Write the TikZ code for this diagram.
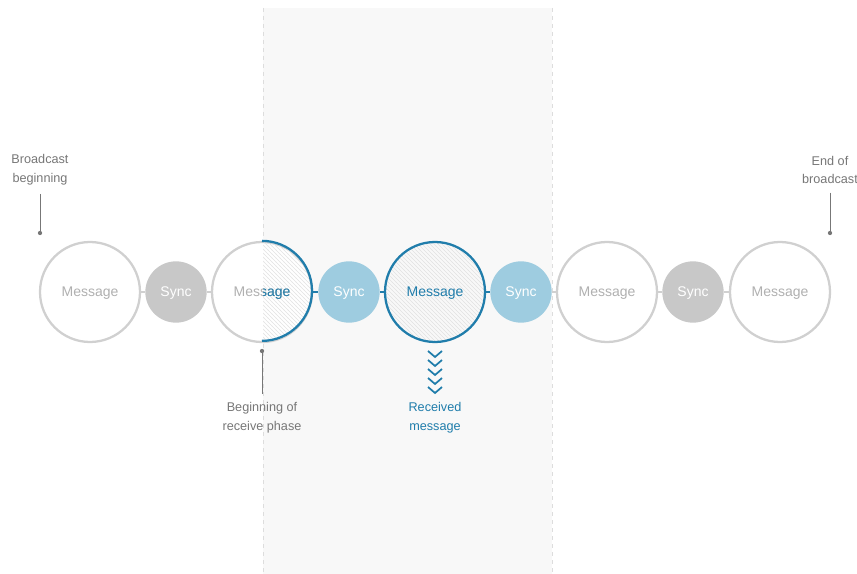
\documentclass[tikz,border=0pt]{standalone}
\usepackage{fontspec}
\setmainfont{Liberation Sans}
\usetikzlibrary{patterns, arrows}

\definecolor{ringgray}{HTML}{D0D0D0}
\definecolor{textgray}{HTML}{B0B0B0}
\definecolor{syncgray}{HTML}{C8C8C8}
\definecolor{labelgray}{HTML}{777777}
\definecolor{rxblue}{HTML}{207DAB}
\definecolor{syncblue}{HTML}{9ECCE0}
\definecolor{phasebg}{HTML}{F8F8F8}
\definecolor{phaseline}{HTML}{DDDDDD}
\definecolor{hatch}{HTML}{E2E2E2}

\tikzset{
    msg/.style={circle, draw=ringgray, line width=1.7pt, fill=white, text=textgray,
        minimum size=75pt, inner sep=0pt, text depth=0pt,
        font=\fontsize{10.5}{12}\selectfont},
    rxmsg/.style={msg, draw=rxblue, fill=none, pattern=north west lines,
        pattern color=hatch, text=rxblue},
    sync/.style={circle, fill=syncgray, text=white, minimum size=46pt, inner sep=0pt,
        text depth=0pt, font=\fontsize{10.5}{12}\selectfont},
    rxsync/.style={sync, fill=syncblue},
    link/.style={ringgray, line width=1.5pt},
    rxlink/.style={rxblue, line width=1.5pt},
    note/.style={align=center, text=labelgray, font=\fontsize{9.5}{14}\selectfont},
    pin/.style={labelgray, line width=0.5pt},
}

\begin{document}
\begin{tikzpicture}[x=0.75pt, y=-0.75pt]
    \useasboundingbox (0, 0) rectangle (857, 574);

    % receive window
    \fill[phasebg] (263, 8) rectangle (552, 574);
    \draw[phaseline, dashed] (263, 8) -- (263, 574);
    \draw[phaseline, dashed] (552, 8) -- (552, 574);

    \node[msg] (m1) at (90, 292) {Message};
    \node[sync] (s1) at (176, 292) {Sync};
    \node[msg] (m2) at (262, 292) {Message};
    \node[rxsync] (s2) at (349, 292) {Sync};
    \node[rxmsg] (m3) at (435, 292) {Message};
    \node[rxsync] (s3) at (521, 292) {Sync};
    \node[msg] (m4) at (607, 292) {Message};
    \node[sync] (s4) at (693, 292) {Sync};
    \node[msg] (m5) at (780, 292) {Message};

    % right half of m2 already inside the window
    \begin{scope}
        \clip (263, 200) rectangle (400, 400);
        \fill[pattern=north west lines, pattern color=hatch] (m2.center) circle (37.5pt);
        \node[msg, draw=none, fill=none, text=rxblue] at (m2.center) {Message};
    \end{scope}
    \draw[rxblue, line width=1.7pt] (m2.north) arc (90:-90:37.5pt);

    \draw[link] (m1) -- (s1);
    \draw[link] (s1) -- (m2);
    \draw[rxlink] (m2) -- (s2);
    \draw[rxlink] (s2) -- (m3);
    \draw[rxlink] (m3) -- (s3);
    \draw[link] (s3) -- (m4);
    \draw[link] (m4) -- (s4);
    \draw[link] (s4) -- (m5);

    % labels
    \node[note] (start) at (40, 170) {Broadcast\\beginning};
    \node[note] (stop) at (830, 170) {End of\\broadcast};
    \node[note] (phase) at (262, 418) {Beginning of\\receive phase};
    \node[note, text=rxblue] (recv) at (435, 418) {Received\\message};

    \coordinate (startdot) at (40, 233);
    \coordinate (stopdot) at (830, 233);
    \coordinate (phasedot) at (262, 351);

    \draw[pin] ([yshift=-3pt]start.south) -- (startdot);
    \draw[pin] ([yshift=-3pt]stop.south) -- (stopdot);
    \draw[pin] ([yshift=3pt]phase.north) -- (phasedot);
    \foreach \d in {startdot, stopdot, phasedot}
        \fill[labelgray] (\d) circle (1.6pt);

    % arrows down to the received message
    \foreach \y in {351, 360, 369, 378, 387}
        \draw[rxblue, line width=1.3pt] (428, \y) -- (435, \y + 6) -- (442, \y);
\end{tikzpicture}
\end{document}
